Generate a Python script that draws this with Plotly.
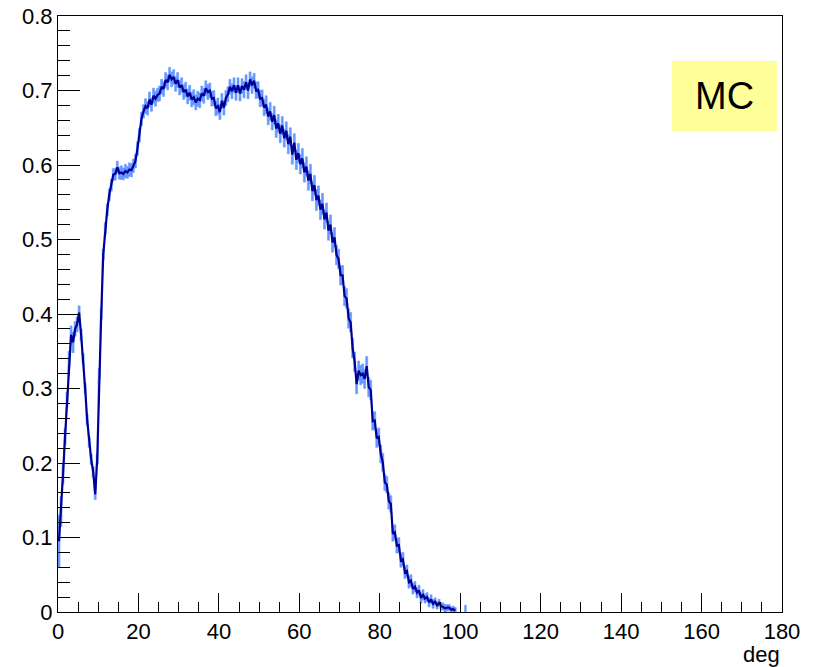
import plotly.graph_objects as go

BIN_WIDTH = 0.5  # deg
bin_low_edges_start = 0.0

values = [
    0.095, 0.135, 0.185, 0.235, 0.285, 0.340, 0.372, 0.362, 0.380, 0.386,
    0.402, 0.372, 0.340, 0.300, 0.258, 0.228, 0.205, 0.188, 0.158, 0.205,
    0.320, 0.400, 0.480, 0.515, 0.540, 0.560, 0.573, 0.587, 0.588, 0.597,
    0.589, 0.590, 0.588, 0.592, 0.590, 0.594, 0.593, 0.599, 0.605, 0.622,
    0.640, 0.662, 0.672, 0.679, 0.676, 0.688, 0.681, 0.693, 0.689, 0.694,
    0.696, 0.705, 0.702, 0.714, 0.711, 0.721, 0.715, 0.718, 0.709, 0.714,
    0.704, 0.707, 0.698, 0.701, 0.692, 0.697, 0.688, 0.691, 0.684, 0.689,
    0.687, 0.696, 0.693, 0.703, 0.698, 0.700, 0.689, 0.690, 0.676, 0.679,
    0.671, 0.686, 0.677, 0.690, 0.695, 0.705, 0.699, 0.707, 0.697, 0.707,
    0.696, 0.706, 0.701, 0.711, 0.700, 0.715, 0.707, 0.713, 0.700, 0.701,
    0.689, 0.690, 0.677, 0.681, 0.665, 0.672, 0.658, 0.667, 0.649, 0.656,
    0.642, 0.653, 0.636, 0.646, 0.628, 0.638, 0.614, 0.630, 0.607, 0.616,
    0.601, 0.609, 0.590, 0.598, 0.579, 0.588, 0.565, 0.573, 0.553, 0.559,
    0.540, 0.548, 0.527, 0.536, 0.512, 0.520, 0.496, 0.503, 0.479, 0.474,
    0.452, 0.452, 0.424, 0.421, 0.394, 0.389, 0.354, 0.336, 0.306, 0.324,
    0.318, 0.320, 0.313, 0.330, 0.302, 0.298, 0.256, 0.257, 0.233, 0.235,
    0.212, 0.201, 0.174, 0.171, 0.149, 0.145, 0.105, 0.107, 0.089, 0.090,
    0.069, 0.071, 0.053, 0.055, 0.040, 0.042, 0.031, 0.034, 0.026, 0.029,
    0.019, 0.023, 0.018, 0.020, 0.013, 0.017, 0.011, 0.014, 0.009, 0.012,
    0.008, 0.007, 0.005, 0.006, 0.006, 0.003, 0.004, 0.002, None, None,
    None, None, 0.004, None,
]

errors = [
    0.035, 0.020, 0.013, 0.011, 0.010, 0.010, 0.012, 0.014, 0.010, 0.010,
    0.009, 0.008, 0.007, 0.007, 0.007, 0.007, 0.007, 0.007, 0.007, 0.007,
    0.007, 0.007, 0.007, 0.008, 0.008, 0.008, 0.008, 0.008, 0.008, 0.008,
    0.008, 0.009, 0.008, 0.009, 0.008, 0.009, 0.009, 0.009, 0.009, 0.009,
    0.009, 0.009, 0.009, 0.010, 0.009, 0.010, 0.009, 0.010, 0.010, 0.009,
    0.010, 0.010, 0.010, 0.010, 0.010, 0.010, 0.010, 0.010, 0.010, 0.010,
    0.010, 0.010, 0.010, 0.010, 0.010, 0.010, 0.010, 0.010, 0.010, 0.010,
    0.010, 0.010, 0.010, 0.010, 0.010, 0.010, 0.010, 0.010, 0.010, 0.011,
    0.010, 0.010, 0.010, 0.010, 0.010, 0.010, 0.010, 0.010, 0.010, 0.010,
    0.010, 0.010, 0.011, 0.010, 0.011, 0.010, 0.011, 0.010, 0.011, 0.011,
    0.011, 0.011, 0.011, 0.012, 0.011, 0.012, 0.011, 0.012, 0.012, 0.012,
    0.012, 0.012, 0.012, 0.012, 0.013, 0.012, 0.013, 0.012, 0.013, 0.013,
    0.013, 0.013, 0.013, 0.013, 0.013, 0.013, 0.013, 0.013, 0.014, 0.013,
    0.013, 0.014, 0.013, 0.013, 0.013, 0.013, 0.013, 0.013, 0.013, 0.013,
    0.013, 0.013, 0.013, 0.013, 0.013, 0.013, 0.013, 0.013, 0.013, 0.013,
    0.013, 0.013, 0.013, 0.013, 0.013, 0.013, 0.012, 0.012, 0.012, 0.012,
    0.012, 0.012, 0.011, 0.011, 0.011, 0.011, 0.010, 0.010, 0.010, 0.010,
    0.009, 0.009, 0.008, 0.008, 0.008, 0.008, 0.007, 0.007, 0.007, 0.007,
    0.007, 0.007, 0.006, 0.006, 0.006, 0.006, 0.006, 0.005, 0.005, 0.005,
    0.005, 0.005, 0.005, 0.005, 0.004, 0.004, 0.004, 0.004, None, None,
    None, None, 0.005, None,
]

x_range = [0, 180]
y_range = [0, 0.8]
x_title = "deg"
box_label = "MC"

centers = [bin_low_edges_start + BIN_WIDTH * (i + 0.5) for i in range(len(values))]

# Build closed error-band polygons (one per contiguous run of filled bins)
segments = []
cur = []
for i, (v, e) in enumerate(zip(values, errors)):
    if v is None:
        if cur:
            segments.append(cur)
            cur = []
        continue
    lo_edge = bin_low_edges_start + BIN_WIDTH * i
    cur.append((lo_edge, lo_edge + BIN_WIDTH, v - e, v + e))
if cur:
    segments.append(cur)

FONT = "Liberation Sans, Arial, Helvetica, sans-serif"
ERR_COLOR = "#6699ff"
LINE_COLOR = "#000099"

fig = go.Figure()
for seg in segments:
    px, py = [], []
    for a, b, lo, hi in seg:
        px += [a, b]
        py += [hi, hi]
    for a, b, lo, hi in reversed(seg):
        px += [b, a]
        py += [max(lo, 0), max(lo, 0)]
    fig.add_trace(go.Scatter(
        x=px, y=py, mode="lines", fill="toself",
        fillcolor=ERR_COLOR, line=dict(width=0.6, color=ERR_COLOR),
        showlegend=False, hoverinfo="skip",
    ))

fig.add_trace(go.Scatter(
    x=centers, y=values, mode="lines",
    line=dict(color=LINE_COLOR, width=2.2),
    connectgaps=False, showlegend=False,
))

fig.update_layout(
    width=818, height=667,
    margin=dict(l=58, r=36, t=16, b=55),
    paper_bgcolor="white", plot_bgcolor="white",
    font=dict(family=FONT, size=22, color="black"),
)
fig.update_xaxes(
    range=x_range, dtick=20, tick0=0,
    ticks="inside", ticklen=19, tickwidth=1, tickcolor="black",
    minor=dict(dtick=5, ticklen=10, ticks="inside", tickcolor="black", tickwidth=1),
    showline=True, linecolor="black", linewidth=1, mirror=True,
    showgrid=False, zeroline=False, automargin=False,
    tickfont=dict(family=FONT, size=22),
)
fig.update_yaxes(
    range=y_range, dtick=0.1, tick0=0,
    ticks="inside", ticklen=22, tickwidth=1, tickcolor="black",
    minor=dict(dtick=0.02, ticklen=12, ticks="inside", tickcolor="black", tickwidth=1),
    showline=True, linecolor="black", linewidth=1, mirror=True,
    showgrid=False, zeroline=False, automargin=False,
    tickfont=dict(family=FONT, size=22),
)

fig.add_annotation(
    text=x_title, xref="paper", yref="paper", x=1.0, y=0,
    xanchor="right", yanchor="top", yshift=-28, showarrow=False,
    font=dict(family=FONT, size=22, color="black"),
)

fig.add_shape(
    type="rect", xref="paper", yref="paper",
    x0=0.848, x1=0.993, y0=0.807, y1=0.9245,
    fillcolor="#ffff99", line=dict(width=0), layer="above",
)
fig.add_annotation(
    text=box_label, xref="paper", yref="paper", x=(0.848 + 0.993) / 2, y=(0.807 + 0.9245) / 2,
    xanchor="center", yanchor="middle", showarrow=False,
    font=dict(family=FONT, size=38, color="black"),
)

fig.write_html("out.html")
